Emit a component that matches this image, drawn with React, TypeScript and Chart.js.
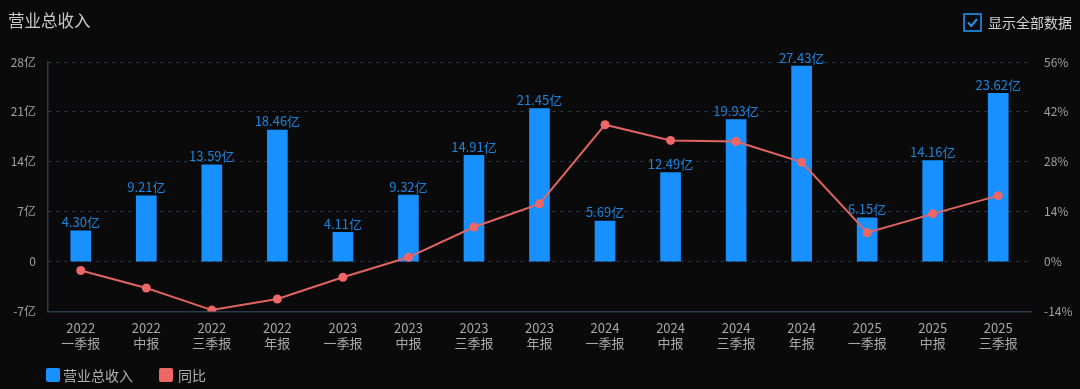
import React, { useEffect, useRef } from "react";
import { Chart, registerables } from "chart.js";

Chart.register(...registerables);

const years = ["2022", "2022", "2022", "2022", "2023", "2023", "2023", "2023", "2024", "2024", "2024", "2024", "2025", "2025", "2025"];
const periods = ["一季报", "中报", "三季报", "年报", "一季报", "中报", "三季报", "年报", "一季报", "中报", "三季报", "年报", "一季报", "中报", "三季报"];
const revenue = [4.30, 9.21, 13.59, 18.46, 4.11, 9.32, 14.91, 21.45, 5.69, 12.49, 19.93, 27.43, 6.15, 14.16, 23.62];
const yoy = [-2.5, -7.4, -13.6, -10.5, -4.4, 1.2, 9.7, 16.2, 38.4, 34.0, 33.7, 27.9, 8.1, 13.4, 18.5];
const leftTicks = [-7, 0, 7, 14, 21, 28];
const rightTicks = [-14, 0, 14, 28, 42, 56];

const FONT = "'Noto Sans CJK SC', 'Noto Sans', sans-serif";
const BG = "#0a0a0a";
const BLUE = "#1890ff";
const RED = "#e06562";
const AXIS = "#2c3b4d";
const GRID = "#2f3d4b";

const barLabelPlugin = {
  id: "barLabels",
  afterDatasetsDraw(chart: any) {
    const meta = chart.getDatasetMeta(0);
    const ctx = chart.ctx;
    ctx.save();
    ctx.font = `13px ${FONT}`;
    ctx.fillStyle = "#1d84de";
    ctx.textAlign = "center";
    ctx.textBaseline = "bottom";
    meta.data.forEach((el: any, i: number) => {
      ctx.fillText(revenue[i].toFixed(2) + "亿", el.x, el.y - 2);
    });
    ctx.restore();
  },
};

export default function App() {
  const ref = useRef<HTMLCanvasElement | null>(null);

  useEffect(() => {
    document.body.style.margin = "0";
    document.body.style.background = BG;
    const canvas = ref.current;
    if (!canvas) return;
    const chart = new Chart(canvas, {
      type: "bar",
      data: {
        labels: years.map((y, i) => [y, periods[i]]),
        datasets: [
          {
            type: "bar",
            label: "营业总收入",
            data: revenue,
            backgroundColor: BLUE,
            barThickness: 20,
            yAxisID: "y",
            order: 2,
          } as any,
          {
            type: "line",
            label: "同比",
            data: yoy,
            borderColor: RED,
            backgroundColor: "#ee6666",
            borderWidth: 2,
            pointRadius: 4.5,
            pointBackgroundColor: "#ee6666",
            pointBorderWidth: 0,
            tension: 0,
            yAxisID: "y1",
            order: 1,
          } as any,
        ],
      },
      options: {
        animation: false,
        responsive: false,
        maintainAspectRatio: false,
        layout: { padding: { top: 62, left: 0, right: 0, bottom: 0 } },
        plugins: {
          legend: { display: false },
          tooltip: { enabled: false },
        },
        scales: {
          x: {
            offset: true,
            grid: { display: false, drawTicks: false },
            border: { display: true, color: AXIS, width: 1.5 },
            ticks: {
              color: "#a8a8a8",
              font: { family: FONT, size: 13, lineHeight: 1.15 },
              padding: 9,
              maxRotation: 0,
              autoSkip: false,
            },
            afterFit: (s: any) => {
              s.height = 389 - 311.5;
            },
          },
          y: {
            position: "left",
            min: leftTicks[0],
            max: leftTicks[leftTicks.length - 1],
            afterBuildTicks: (s: any) => {
              s.ticks = leftTicks.map((v) => ({ value: v }));
            },
            grid: { color: GRID, drawTicks: false, lineWidth: 1 },
            border: { display: true, color: AXIS, width: 1.5, dash: [3, 5] },
            ticks: {
              color: "#a0a0a0",
              font: { family: FONT, size: 12 },
              padding: 12,
              callback: (v: any) => (v === 0 ? "0" : v + "亿"),
            },
            afterFit: (s: any) => {
              s.width = 48;
            },
          },
          y1: {
            position: "right",
            min: rightTicks[0],
            max: rightTicks[rightTicks.length - 1],
            afterBuildTicks: (s: any) => {
              s.ticks = rightTicks.map((v) => ({ value: v }));
            },
            grid: { display: false, drawTicks: false },
            border: { display: false },
            ticks: {
              color: "#a0a0a0",
              font: { family: FONT, size: 12 },
              padding: 13,
              callback: (v: any) => v + "%",
            },
            afterFit: (s: any) => {
              s.width = 49;
            },
          },
        },
      },
      plugins: [barLabelPlugin],
    });
    return () => chart.destroy();
  }, []);

  return (
    <div style={{ position: "fixed", left: 0, top: 0, width: 1080, height: 389, background: BG, fontFamily: FONT, overflow: "hidden" }}>
      <canvas ref={ref} width={1080} height={389} style={{ position: "absolute", left: 0, top: 0, width: 1080, height: 389 }} />
      <div style={{ position: "absolute", left: 8, top: 8, fontSize: 16.5, lineHeight: "24px", color: "#c8c8c8" }}>营业总收入</div>
      <div style={{ position: "absolute", left: 963, top: 13, width: 15, height: 15, border: "2px solid #1a78c8", borderRadius: 1 }}>
        <svg width="15" height="15" viewBox="0 0 15 15" style={{ position: "absolute", left: 0, top: 0 }}>
          <polyline points="3,7.5 6.3,11 12,4" fill="none" stroke="#2a92e6" strokeWidth="2" />
        </svg>
      </div>
      <div style={{ position: "absolute", left: 988, top: 12, fontSize: 14, lineHeight: "20px", color: "#d0d0d0" }}>显示全部数据</div>
      <div style={{ position: "absolute", left: 46, top: 368, width: 14, height: 14, borderRadius: 2, background: BLUE }} />
      <div style={{ position: "absolute", left: 63, top: 365, fontSize: 14, lineHeight: "20px", color: "#b0b0b0" }}>营业总收入</div>
      <div style={{ position: "absolute", left: 159, top: 368, width: 14, height: 14, borderRadius: 2, background: "#ee6666" }} />
      <div style={{ position: "absolute", left: 178, top: 365, fontSize: 14, lineHeight: "20px", color: "#b0b0b0" }}>同比</div>
    </div>
  );
}
